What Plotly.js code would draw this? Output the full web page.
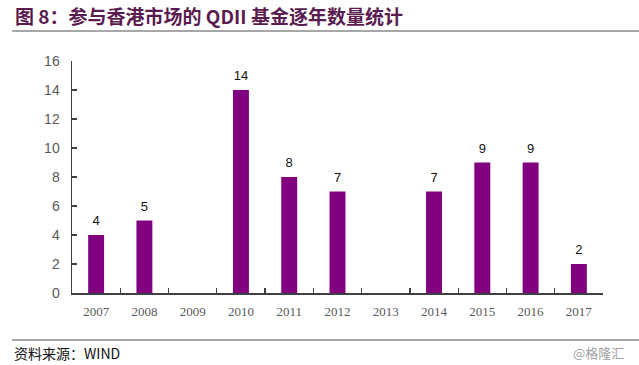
<!DOCTYPE html>
<html>
<head>
<meta charset="utf-8">
<script src="https://cdn.plot.ly/plotly-3.0.1.min.js"></script>
<style>html,body{margin:0;padding:0;background:#fff;}#chart{width:639px;height:365px;}</style>
</head>
<body>
<div id="chart"></div>
<script>
const years = ['2007','2008','2009','2010','2011','2012','2013','2014','2015','2016','2017'];
const counts = [4, 5, null, 14, 8, 7, null, 7, 9, 9, 2];
const yTicks = [0, 2, 4, 6, 8, 10, 12, 14, 16];
const titleText = '图 8：参与香港市场的 QDII 基金逐年数量统计';
const sourceText = '资料来源：WIND';
const watermark = '@格隆汇';

const W = 639, H = 365, L = 72, R = 36, T = 61, B = 72;
const pw = W - L - R, ph = H - T - B;
const px = v => (v - L) / pw;
const py = v => (H - B - v) / ph;

const data = [{
  type: 'bar', x: years, y: counts,
  marker: {color: '#800080'},
  hoverinfo: 'none'
}, {
  type: 'scatter', mode: 'markers+text', x: years, y: counts,
  text: counts.map(v => v == null ? '' : String(v)),
  textposition: 'top center',
  marker: {size: 9, opacity: 0},
  textfont: {family: 'Liberation Sans, Arial', size: 13, color: '#111'},
  cliponaxis: false,
  hoverinfo: 'none'
}];

const layout = {
  width: W, height: H,
  margin: {l: L, r: R, t: T, b: B},
  paper_bgcolor: '#fff', plot_bgcolor: '#fff',
  showlegend: false,
  bargap: 0.67,
  xaxis: {
    type: 'category', range: [-0.5, 10.5],
    showline: true, linecolor: '#404040', linewidth: 1.5,
    ticks: 'inside', tickson: 'boundaries', ticklen: 5, tickcolor: '#404040', tickwidth: 1.3,
    showgrid: false, zeroline: false,
    ticklabelstandoff: 6,
    tickfont: {family: 'Liberation Serif, serif', size: 13, color: '#595959'}
  },
  yaxis: {
    range: [0, 16], tickvals: yTicks,
    showline: true, linecolor: '#404040', linewidth: 1.5,
    ticks: 'inside', ticklen: 5, tickcolor: '#404040', tickwidth: 1.3,
    showgrid: false, zeroline: false,
    ticklabelstandoff: 8,
    tickfont: {family: 'Liberation Sans, Arial', size: 14, color: '#595959'}
  },
  shapes: [
    {type: 'line', xref: 'paper', yref: 'paper', x0: px(12), x1: px(639), y0: py(31), y1: py(31), line: {color: '#8a8a8a', width: 1.5}},
    {type: 'line', xref: 'paper', yref: 'paper', x0: px(12), x1: px(639), y0: py(340), y1: py(340), line: {color: '#8a8a8a', width: 1.5}}
  ],
  annotations: [
    {xref: 'paper', yref: 'paper', x: px(13), y: py(15), xanchor: 'left', yanchor: 'middle', showarrow: false,
     text: '<b>' + titleText + '</b>', font: {family: 'Noto Sans CJK SC', size: 19, color: '#5a1c4f'}},
    {xref: 'paper', yref: 'paper', x: px(12), y: py(353), xanchor: 'left', yanchor: 'middle', showarrow: false,
     text: sourceText, font: {family: 'Noto Sans CJK SC', size: 14, color: '#111'}},
    {xref: 'paper', yref: 'paper', x: px(626), y: py(352), xanchor: 'right', yanchor: 'middle', showarrow: false,
     text: watermark, font: {family: 'Noto Sans CJK SC', size: 13, color: '#a0a0a0'}}
  ]
};

Plotly.newPlot('chart', data, layout, {staticPlot: true, displayModeBar: false});
</script>
</body>
</html>
